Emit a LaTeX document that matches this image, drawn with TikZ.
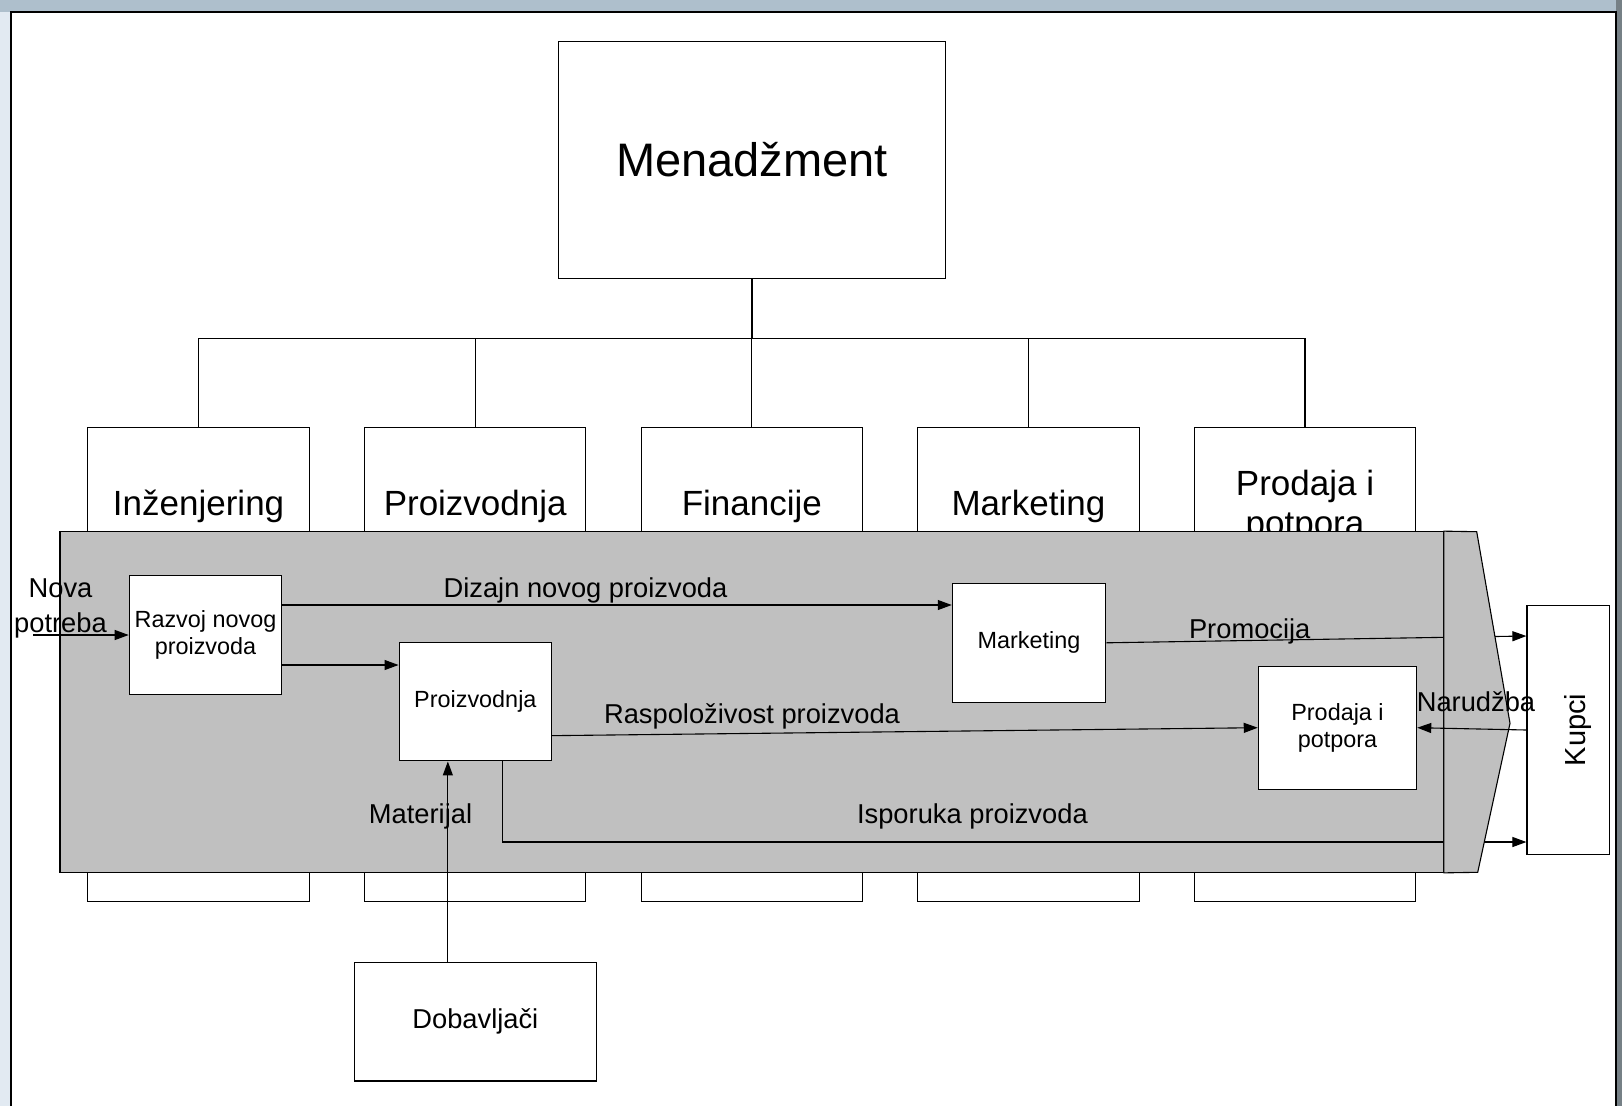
\documentclass[tikz,border=0pt]{standalone}
\usepackage{fontspec}
\setmainfont{Liberation Sans}
\usepackage{tikz}
\usetikzlibrary{arrows.meta}
\usetikzlibrary{positioning}
\tikzset{font={\fontsize{27.3pt}{35pt}\selectfont}}
\definecolor{bandgray}{RGB}{192,192,192}
\definecolor{chrometop}{RGB}{174,191,204}
\definecolor{chromeleft}{RGB}{226,234,242}
\definecolor{chromedark}{RGB}{112,116,106}
\definecolor{chromeright}{RGB}{118,128,134}
\tikzset{
  box/.style={draw, fill=white, rectangle, inner sep=0pt, line width=1.1pt},
  dept/.style={box, minimum width=221.4pt, minimum height=474.5pt},
  depttxt/.style={font={\fontsize{35pt}{40pt}\selectfont}, align=center, inner sep=0pt},
  proc/.style={box, minimum width=152.5pt, minimum height=118.5pt, align=center,
    font={\fontsize{23.4pt}{27pt}\selectfont}},
  flow/.style={line width=1.1pt, ->},
  lbl/.style={anchor=base, inner sep=0pt},
}

\begin{document}
\begin{tikzpicture}[x=1pt, y=-1pt, >={Triangle[length=14pt,width=10pt]}]
  \useasboundingbox (0,0) rectangle (1622,1106);
  % Window edge
  \fill[chrometop] (0,0) rectangle (1622,12);
  \fill[chromeleft] (0,12) rectangle (11,1106);
  \shade[top color=chromeleft, middle color=chromedark, bottom color=chromeleft] (0,70) rectangle (8,460);
  \fill[chromeright] (1616,0) rectangle (1622,1106);
  \draw[line width=1.3pt] (11,1106) -- (11,12) -- (1616,12) -- (1616,1106);

  % Define nodes
  \node[box, minimum width=387pt, minimum height=237pt,
        font={\fontsize{47pt}{56pt}\selectfont}] (mgmt) at (752,159.8) {Menadžment};
  \coordinate (bus) at (752,338.3);
  \node[dept]                        (inz) at (198.6,664.5) {};
  \node[dept, right=54.1pt of inz]   (proiz) {};
  \node[dept, right=54.1pt of proiz] (fin) {};
  \node[dept, right=54.1pt of fin]   (mark) {};
  \node[dept, right=54.1pt of mark]  (prod) {};
  \foreach \d/\t in {inz/Inženjering, proiz/Proizvodnja, fin/Financije,
                     mark/Marketing, prod/{Prodaja i\\potpora}}
    \node[depttxt] (t\d) at ([yshift=-80pt]\d.north) {\t};

  % Connect the org chart
  \draw[line width=1.1pt] (mgmt.south) -- (bus);
  \draw[line width=1.1pt] (inz.north) |- (bus) -| (prod.north);
  \foreach \d in {proiz,fin,mark}
    \draw[line width=1.1pt] (\d.north) -- (\d.north |- bus);

  % Value chain
  \node[draw, fill=bandgray, line width=1.1pt, inner sep=0pt,
        minimum width=1383.3pt, minimum height=340.6pt] (band) at (751.65,702) {};
  \node[proc] (razvoj) at (205.5,635) {Razvoj novog\\proizvoda};
  \node[proc] (pinn) at (475.35,701.65) {Proizvodnja};
  \node[proc, minimum width=153.4pt, minimum height=119pt] (mkt) at (1029,642.8) {Marketing};
  \node[proc, minimum width=158.4pt, minimum height=123.3pt] (sinn) at (1337.5,727.7) {Prodaja i\\potpora};
  \node[box, minimum width=82.7pt, minimum height=248.6pt,
        label={[name=tkupci, xshift=10pt, rotate=90, font={\fontsize{29pt}{35pt}\selectfont}]center:Kupci}]
        (kupci) at (1568.3,730) {};
  \node[box, minimum width=241.7pt, minimum height=118.3pt, below=200.7pt of pinn] (dob) {Dobavljači};

  % Connect the nodes
  \coordinate (need) at (33,635);
  \coordinate (dz) at ([yshift=30pt]razvoj.east);
  \coordinate (rp) at ([yshift=-30pt]razvoj.east);
  \coordinate (mt) at ([xshift=-27.5pt]dob.north);
  \draw[flow] (need) -- (razvoj.west);
  \draw[flow] (dz) -- (dz -| mkt.west);
  \draw[flow] (rp) -- (rp -| pinn.west);
  \draw[flow] ([yshift=-34pt]pinn.east) -- (sinn.west);
  \draw[flow] (mkt.east) -- ([yshift=94pt]kupci.west);
  \draw[flow] ([xshift=27.4pt]pinn.south) |- ([yshift=-112pt]kupci.west);
  \draw[flow] (mt) -- (mt |- pinn.south);

  % Arrow head of the chain
  \filldraw[fill=bandgray, line width=1.1pt] (band.north east) -- (1476.7,531.7)
    -- (1510,723.3) -- (1477.7,872.3) -- (band.south east) -- cycle;
  \draw[flow] (kupci.west) -- (sinn.east);

  % Labels
  \node[inner sep=0pt, align=center] (lnova) at (60.5,608) {Nova\\potreba};
  \node[lbl] (ldizajn) at (585.5,597) {Dizajn novog proizvoda};
  \node[lbl] (lrasp) at (752,723) {Raspoloživost proizvoda};
  \node[lbl] (lpromo) at (1249.7,638.5) {Promocija};
  \node[lbl] (lnar) at (1476,711.5) {Narudžba};
  \node[lbl] (lisp) at (972.4,823) {Isporuka proizvoda};
  \node[lbl] (lmat) at (420.5,823.3) {Materijal};
\end{tikzpicture}
\end{document}
